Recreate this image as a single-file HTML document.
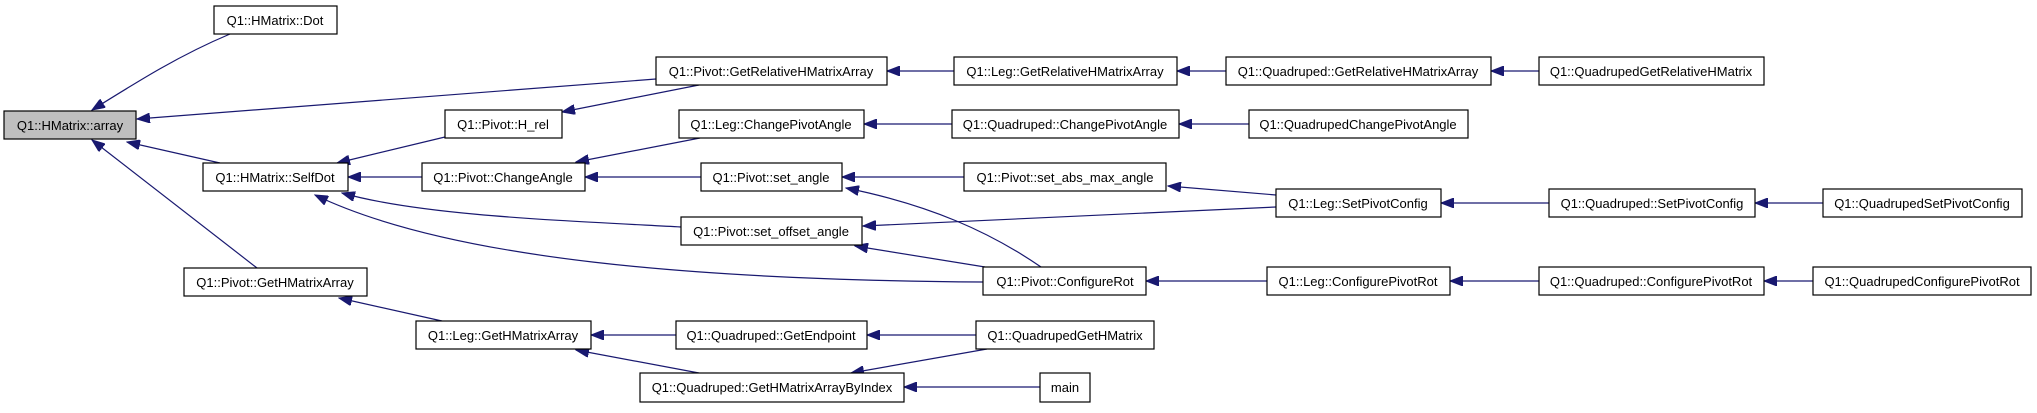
<!DOCTYPE html>
<html><head><meta charset="utf-8"><style>
html,body{margin:0;padding:0;background:#fff;}
svg text{font-family:"Liberation Sans",sans-serif;font-size:13px;fill:#000;}
</style></head><body>
<svg width="2037" height="408" viewBox="0 0 2037 408" xmlns="http://www.w3.org/2000/svg">
<defs>
<marker id="a" markerUnits="userSpaceOnUse" markerWidth="14" markerHeight="10" refX="13" refY="5" orient="auto">
<path d="M0,0 L13,5 L0,10 Z" fill="#191970" stroke="#191970"/>
</marker>
</defs>
<g fill="none" stroke="#191970" stroke-width="1.2" marker-end="url(#a)">
<path d="M230,34 C180,55 140,80 92,110"/>
<path d="M656,79 L137,119"/>
<path d="M220,163 L127,142"/>
<path d="M257,268 L92,140"/>
<path d="M445,137 L337,163"/>
<path d="M699,85 L562,112"/>
<path d="M422,177 L348,177"/>
<path d="M681,227 C550,220 420,215 342,193"/>
<path d="M983,282 C700,280 450,260 315,195"/>
<path d="M700,138 L576,162"/>
<path d="M701,177 L585,177"/>
<path d="M442,321 L339,298"/>
<path d="M676,335 L591,335"/>
<path d="M699,373 L576,350"/>
<path d="M954,71 L887,71"/>
<path d="M1226,71 L1177,71"/>
<path d="M1539,71 L1491,71"/>
<path d="M952,124 L864,124"/>
<path d="M1249,124 L1179,124"/>
<path d="M964,177 L842,177"/>
<path d="M1041,267 C990,232 930,205 846,188"/>
<path d="M1276,195 L1168,186"/>
<path d="M1276,207 L863,226"/>
<path d="M985,267 L855,246"/>
<path d="M1267,281 L1146,281"/>
<path d="M1549,203 L1441,203"/>
<path d="M1823,203 L1755,203"/>
<path d="M1539,281 L1450,281"/>
<path d="M1813,281 L1764,281"/>
<path d="M976,335 L867,335"/>
<path d="M987,349 L851,373"/>
<path d="M1040,387 L904,387"/>
</g>
<g stroke="#000" stroke-width="1.2" fill="#fff">
<rect x="4" y="111" width="132" height="28" fill="#bfbfbf"/>
<rect x="214" y="6" width="123" height="28"/>
<rect x="203" y="163" width="145" height="28"/>
<rect x="445" y="110" width="117" height="28"/>
<rect x="422" y="163" width="163" height="28"/>
<rect x="184" y="268" width="183" height="28"/>
<rect x="416" y="321" width="175" height="28"/>
<rect x="640" y="373" width="264" height="29"/>
<rect x="656" y="57" width="231" height="28"/>
<rect x="954" y="57" width="223" height="28"/>
<rect x="1226" y="57" width="265" height="28"/>
<rect x="1539" y="57" width="225" height="28"/>
<rect x="679" y="110" width="185" height="28"/>
<rect x="952" y="110" width="227" height="28"/>
<rect x="1249" y="110" width="219" height="28"/>
<rect x="701" y="163" width="141" height="28"/>
<rect x="964" y="163" width="202" height="28"/>
<rect x="1276" y="189" width="165" height="28"/>
<rect x="1549" y="189" width="206" height="28"/>
<rect x="1823" y="189" width="199" height="28"/>
<rect x="681" y="217" width="181" height="28"/>
<rect x="983" y="267" width="163" height="28"/>
<rect x="1267" y="267" width="183" height="28"/>
<rect x="1539" y="267" width="225" height="28"/>
<rect x="1813" y="267" width="218" height="28"/>
<rect x="676" y="321" width="191" height="28"/>
<rect x="976" y="321" width="178" height="28"/>
<rect x="1040" y="373" width="50" height="29"/>
</g>
<g text-anchor="middle">
<text x="70" y="130">Q1::HMatrix::array</text>
<text x="275" y="25">Q1::HMatrix::Dot</text>
<text x="275" y="182">Q1::HMatrix::SelfDot</text>
<text x="503" y="129">Q1::Pivot::H_rel</text>
<text x="503" y="182">Q1::Pivot::ChangeAngle</text>
<text x="275" y="287">Q1::Pivot::GetHMatrixArray</text>
<text x="503" y="340">Q1::Leg::GetHMatrixArray</text>
<text x="772" y="392">Q1::Quadruped::GetHMatrixArrayByIndex</text>
<text x="771" y="76">Q1::Pivot::GetRelativeHMatrixArray</text>
<text x="1065" y="76">Q1::Leg::GetRelativeHMatrixArray</text>
<text x="1358" y="76">Q1::Quadruped::GetRelativeHMatrixArray</text>
<text x="1651" y="76">Q1::QuadrupedGetRelativeHMatrix</text>
<text x="771" y="129">Q1::Leg::ChangePivotAngle</text>
<text x="1065" y="129">Q1::Quadruped::ChangePivotAngle</text>
<text x="1358" y="129">Q1::QuadrupedChangePivotAngle</text>
<text x="771" y="182">Q1::Pivot::set_angle</text>
<text x="1065" y="182">Q1::Pivot::set_abs_max_angle</text>
<text x="1358" y="208">Q1::Leg::SetPivotConfig</text>
<text x="1652" y="208">Q1::Quadruped::SetPivotConfig</text>
<text x="1922" y="208">Q1::QuadrupedSetPivotConfig</text>
<text x="771" y="236">Q1::Pivot::set_offset_angle</text>
<text x="1065" y="286">Q1::Pivot::ConfigureRot</text>
<text x="1358" y="286">Q1::Leg::ConfigurePivotRot</text>
<text x="1651" y="286">Q1::Quadruped::ConfigurePivotRot</text>
<text x="1922" y="286">Q1::QuadrupedConfigurePivotRot</text>
<text x="771" y="340">Q1::Quadruped::GetEndpoint</text>
<text x="1065" y="340">Q1::QuadrupedGetHMatrix</text>
<text x="1065" y="392">main</text>
</g>
</svg>
</body></html>
